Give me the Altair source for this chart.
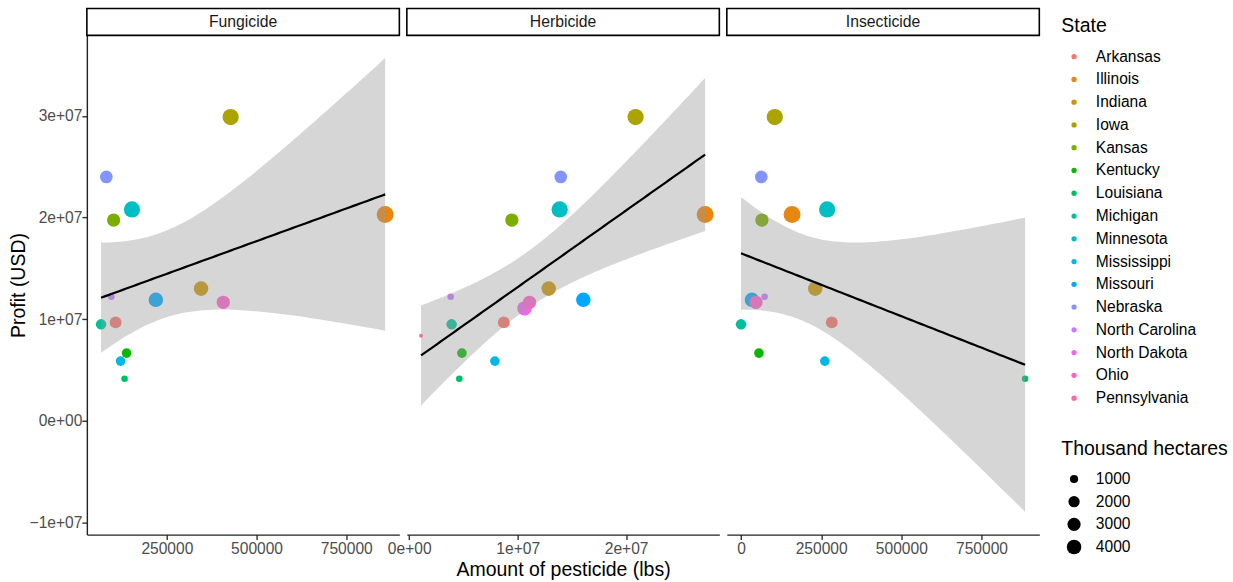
import altair as alt
import numpy as np
import pandas as pd

# ---------------- data ----------------
states = ["Arkansas", "Illinois", "Indiana", "Iowa", "Kansas", "Kentucky", "Louisiana",
          "Michigan", "Minnesota", "Mississippi", "Missouri", "Nebraska",
          "North Carolina", "North Dakota", "Ohio", "Pennsylvania"]
state_colors = ["#F8766D", "#E68613", "#CD9600", "#ABA300", "#7CAE00", "#0CB702", "#00BE67",
                "#00C19A", "#00BFC4", "#00B8E7", "#00A9FF", "#8494FF", "#C77CFF",
                "#ED68ED", "#FF61CC", "#FF68A1"]
# thousand hectares
hectares = [2300, 6400, 4000, 5600, 3100, 1400, 700, 1700, 5600, 1400, 4000, 2700, 700, 4000, 3100, 420]
# profit (USD)
profit = [9.67e6, 2.03e7, 1.30e7, 2.99e7, 1.975e7, 6.65e6, 4.12e6, 9.48e6, 2.08e7, 5.86e6,
          1.19e7, 2.40e7, 1.22e7, 1.105e7, 1.165e7, 8.35e6]
# amount of pesticide (lbs)
fungicide = [107200, 858300, 345300, 427800, 101700, 137800, 132200, 66700, 152800, 121100,
             219400, 81400, 95300, None, 407200, None]
herbicide = [8.72e6, 2.728e7, 1.286e7, 2.087e7, 9.46e6, 4.86e6, 4.62e6, 3.91e6, 1.387e7, 7.9e6,
             1.605e7, 1.397e7, 3.82e6, 1.063e7, 1.109e7, 1.09e6]
insecticide = [283100, 159200, 231400, 105300, 65100, 55800, 886000, 0, 268600, 261400,
               34100, 63200, 73400, None, 46500, None]

panels = ["Fungicide", "Herbicide", "Insecticide"]
amounts = [fungicide, herbicide, insecticide]
x_ticks = [[250000, 500000, 750000], [0, 1e7, 2e7], [0, 250000, 500000, 750000]]
y_ticks = [-1e7, 0, 1e7, 2e7, 3e7]
size_legend_values = [1000, 2000, 3000, 4000]
# two-sided 95% t quantiles for df = 12 and 14
t_quantile = {12: 2.178813, 14: 2.144787}

FONT = "Liberation Sans"
W, H, STRIP = 313, 500, 27


def points_frame(amount):
    rows = [dict(state=s, x=a, profit=p, hectares=h)
            for s, a, p, h in zip(states, amount, profit, hectares) if a is not None]
    return pd.DataFrame(rows)


def lm_band(df, n_grid=80):
    xs = df["x"].to_numpy(float)
    ys = df["profit"].to_numpy(float)
    n = len(xs)
    b, a = np.polyfit(xs, ys, 1)
    resid = ys - (a + b * xs)
    s = np.sqrt(np.sum(resid ** 2) / (n - 2))
    xbar = xs.mean()
    sxx = np.sum((xs - xbar) ** 2)
    grid = np.linspace(xs.min(), xs.max(), n_grid)
    fit = a + b * grid
    se = s * np.sqrt(1.0 / n + (grid - xbar) ** 2 / sxx)
    tq = t_quantile[n - 2]
    return pd.DataFrame({"x": grid, "fit": fit, "lo": fit - tq * se, "hi": fit + tq * se})


pts_frames = [points_frame(a) for a in amounts]
fit_frames = [lm_band(d) for d in pts_frames]

all_y = np.concatenate([d["profit"].to_numpy() for d in pts_frames] +
                       [f["lo"].to_numpy() for f in fit_frames] +
                       [f["hi"].to_numpy() for f in fit_frames])
ymin, ymax = all_y.min(), all_y.max()
yr = ymax - ymin
y_domain = [ymin - 0.05 * yr, ymax + 0.05 * yr]

sci_expr = "datum.value == 0 ? '0e+00' : format(datum.value / 1e7, 'd') + 'e+07'"

color_enc = alt.Color(
    "state:N",
    scale=alt.Scale(domain=states, range=state_colors),
    legend=alt.Legend(title="State", symbolType="circle", symbolSize=28,
                      symbolOffset=5, labelOffset=14, rowPadding=5.8, titlePadding=12,
                      symbolStrokeWidth=0, orient="none", legendX=976, legendY=-18),
)
size_enc = alt.Size(
    "hectares:Q",
    scale=alt.Scale(type="sqrt", domain=[420, 6400], range=[16, 289], zero=False),
    legend=alt.Legend(title="Thousand hectares", values=size_legend_values, format="d",
                      symbolType="circle", symbolFillColor="black", symbolStrokeWidth=0,
                      symbolOpacity=1, symbolOffset=5, labelOffset=14, rowPadding=5.7,
                      titlePadding=12, orient="none", legendX=976, legendY=405),
)


def panel(i):
    name = panels[i]
    pts = pts_frames[i]
    fit = fit_frames[i]
    xmn, xmx = pts["x"].min(), pts["x"].max()
    xr = xmx - xmn
    xdom = [xmn - 0.05 * xr, xmx + 0.05 * xr]

    xaxis_kw = dict(values=x_ticks[i], title="Amount of pesticide (lbs)" if i == 1 else None,
                    labelFlush=False, labelOverlap=False, labelBound=False)
    if i == 1:
        xaxis_kw["labelExpr"] = sci_expr
    else:
        xaxis_kw["format"] = "d"
    xaxis = alt.Axis(**xaxis_kw)
    yaxis = (alt.Axis(values=y_ticks, labelExpr=sci_expr, title="Profit (USD)",
                      labelFlush=False, labelOverlap=False, labelPadding=0, titlePadding=1)
             if i == 0 else None)

    xs = alt.Scale(domain=xdom, nice=False, zero=False)
    ys = alt.Scale(domain=y_domain, nice=False, zero=False)

    def X():
        return alt.X("x:Q", scale=xs, axis=xaxis)

    def Y(field):
        return alt.Y(f"{field}:Q", scale=ys, axis=yaxis)

    points = alt.Chart(pts).mark_circle(opacity=1, strokeWidth=0).encode(
        x=X(), y=Y("profit"), color=color_enc, size=size_enc)
    band = alt.Chart(fit).mark_area(color="#999999", opacity=0.4).encode(
        x=X(), y=Y("lo"), y2="hi:Q")
    line = alt.Chart(fit).mark_line(color="black", strokeWidth=2.2).encode(
        x=X(), y=Y("fit"))
    lab = pd.DataFrame({"label": [name]})
    strip = alt.Chart(lab).mark_rect(fill="white", stroke="black", strokeWidth=1.6).encode(
        x=alt.value(0), x2=alt.value(W), y=alt.value(-STRIP), y2=alt.value(0))
    strip_text = alt.Chart(lab).mark_text(font=FONT, fontSize=15.8, color="#1A1A1A",
                                          baseline="middle", align="center").encode(
        x=alt.value(W / 2), y=alt.value(-STRIP / 2), text="label:N")
    return alt.layer(points, band, line, strip, strip_text).properties(width=W, height=H)


chart = alt.hconcat(panel(0), panel(1), panel(2), spacing=7.5, bounds="flush").resolve_scale(
    x="independent", y="shared", color="shared", size="shared"
).properties(
    padding={"left": 8, "top": 7, "right": 5, "bottom": 2}
).configure_view(stroke=None).configure_axis(
    labelFont=FONT, titleFont=FONT, labelFontSize=15.6, titleFontSize=19.5,
    labelColor="#4D4D4D", titleColor="black", titleFontWeight="normal",
    domainColor="#222222", domainWidth=1.4, tickColor="#333333", tickWidth=1.4, tickSize=5,
    labelPadding=2, titlePadding=3, grid=False,
).configure_legend(
    labelFont=FONT, titleFont=FONT, labelFontSize=15.6, titleFontSize=19.5,
    titleFontWeight="normal", labelColor="black", titleColor="black",
)

chart.save("out.html", embed_options={"renderer": "svg", "actions": False})
